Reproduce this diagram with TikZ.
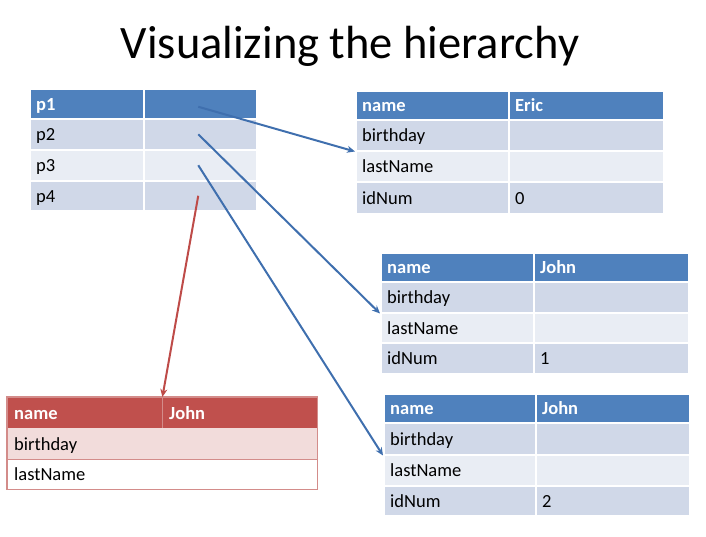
\documentclass[tikz,border=0pt]{standalone}
\usepackage{fontspec}
\setmainfont{Carlito}
\usetikzlibrary{arrows.meta}

\definecolor{hdrblue}{HTML}{4F81BD}
\definecolor{rowdark}{HTML}{D0D8E8}
\definecolor{rowlight}{HTML}{E9EDF4}
\definecolor{hdrred}{HTML}{C0504D}
\definecolor{rowpink}{HTML}{F2DCDB}
\definecolor{redline}{HTML}{D38C8A}
\definecolor{linkblue}{HTML}{3F6FAE}
\definecolor{linkred}{HTML}{BE4B48}

\tikzset{
  cellbox/.style={draw=white, line width=1.5pt, inner sep=0pt, anchor=north west},
  redbox/.style={draw=none, inner sep=0pt, anchor=north west},
  celltext/.style={anchor=base west, inner sep=0pt, font=\fontsize{18.5}{21}\selectfont},
  hdrtext/.style={celltext, text=white, font=\fontsize{18.5}{21}\selectfont\bfseries},
  bluelink/.style={draw=linkblue, line width=2pt, -{Stealth[length=8pt,width=7pt]}},
  redlink/.style={draw=linkred, line width=2pt, -{Stealth[length=8pt,width=7pt]}},
}

% one table cell: name, x1, y1, x2, y2, box options, text options, text
\newcommand\tcell[8]{%
  \pgfmathsetmacro\cellw{#4-#2}\pgfmathsetmacro\cellh{#5-#3}%
  \node[#6, minimum width=\cellw pt, minimum height=\cellh pt] (#1) at (#2,#3) {};
  \node[#7] (#1-t) at ([xshift=7pt,yshift=-6.5pt]#1.west) {#8};
}

\begin{document}
\begin{tikzpicture}[x=1pt, y=-1pt]
\useasboundingbox (0,0) rectangle (706,536);

% title
\node[font=\fontsize{46.5}{52}\selectfont, anchor=base] (title) at (350,58) {Visualizing the hierarchy};

% pointer array
\tcell{p1k}{29}{88}{143}{118}{cellbox,fill=hdrblue}{hdrtext}{p1}
\tcell{p1v}{143}{88}{256}{118}{cellbox,fill=hdrblue}{hdrtext}{}
\tcell{p2k}{29}{118}{143}{149}{cellbox,fill=rowdark}{celltext}{p2}
\tcell{p2v}{143}{118}{256}{149}{cellbox,fill=rowdark}{celltext}{}
\tcell{p3k}{29}{149}{143}{180}{cellbox,fill=rowlight}{celltext}{p3}
\tcell{p3v}{143}{149}{256}{180}{cellbox,fill=rowlight}{celltext}{}
\tcell{p4k}{29}{180}{143}{210}{cellbox,fill=rowdark}{celltext}{p4}
\tcell{p4v}{143}{180}{256}{210}{cellbox,fill=rowdark}{celltext}{}

% object: Eric
\tcell{e0k}{355}{90}{508}{119}{cellbox,fill=hdrblue}{hdrtext}{name}
\tcell{e0v}{508}{90}{663}{119}{cellbox,fill=hdrblue}{hdrtext}{Eric}
\tcell{e1k}{355}{119}{508}{150}{cellbox,fill=rowdark}{celltext}{birthday}
\tcell{e1v}{508}{119}{663}{150}{cellbox,fill=rowdark}{celltext}{}
\tcell{e2k}{355}{150}{508}{181}{cellbox,fill=rowlight}{celltext}{lastName}
\tcell{e2v}{508}{150}{663}{181}{cellbox,fill=rowlight}{celltext}{}
\tcell{e3k}{355}{181}{508}{213}{cellbox,fill=rowdark}{celltext}{idNum}
\tcell{e3v}{508}{181}{663}{213}{cellbox,fill=rowdark}{celltext}{0}

% object: John, idNum 1
\tcell{j0k}{380}{252}{533}{281}{cellbox,fill=hdrblue}{hdrtext}{name}
\tcell{j0v}{533}{252}{688}{281}{cellbox,fill=hdrblue}{hdrtext}{John}
\tcell{j1k}{380}{281}{533}{312}{cellbox,fill=rowdark}{celltext}{birthday}
\tcell{j1v}{533}{281}{688}{312}{cellbox,fill=rowdark}{celltext}{}
\tcell{j2k}{380}{312}{533}{342}{cellbox,fill=rowlight}{celltext}{lastName}
\tcell{j2v}{533}{312}{688}{342}{cellbox,fill=rowlight}{celltext}{}
\tcell{j3k}{380}{342}{533}{373}{cellbox,fill=rowdark}{celltext}{idNum}
\tcell{j3v}{533}{342}{688}{373}{cellbox,fill=rowdark}{celltext}{1}

% object: John, idNum 2
\tcell{k0k}{383}{393}{535}{422}{cellbox,fill=hdrblue}{hdrtext}{name}
\tcell{k0v}{535}{393}{689}{422}{cellbox,fill=hdrblue}{hdrtext}{John}
\tcell{k1k}{383}{422}{535}{454}{cellbox,fill=rowdark}{celltext}{birthday}
\tcell{k1v}{535}{422}{689}{454}{cellbox,fill=rowdark}{celltext}{}
\tcell{k2k}{383}{454}{535}{485}{cellbox,fill=rowlight}{celltext}{lastName}
\tcell{k2v}{535}{454}{689}{485}{cellbox,fill=rowlight}{celltext}{}
\tcell{k3k}{383}{485}{535}{515}{cellbox,fill=rowdark}{celltext}{idNum}
\tcell{k3v}{535}{485}{689}{515}{cellbox,fill=rowdark}{celltext}{2}

% partial object (red)
\tcell{r0k}{7}{397}{162}{428}{redbox,fill=hdrred}{hdrtext}{name}
\tcell{r0v}{162}{397}{317}{428}{redbox,fill=hdrred}{hdrtext}{John}
\tcell{r1k}{7}{428}{162}{459}{redbox,fill=rowpink}{celltext}{birthday}
\tcell{r1v}{162}{428}{317}{459}{redbox,fill=rowpink}{celltext}{}
\tcell{r2k}{7}{459}{162}{489}{redbox,fill=white}{celltext}{lastName}
\tcell{r2v}{162}{459}{317}{489}{redbox,fill=white}{celltext}{}
\draw[redline, line width=0.8pt] (r0k.north east) -- (r0k.south east);
\draw[redline, line width=1pt] (r2k.north west) -- (r2v.north east);
\draw[redline, line width=1.2pt] (r0k.north west) rectangle (r2v.south east);

% references
\draw[bluelink] ([xshift=-2pt,yshift=-3pt]p1v.center) -- (e1k.south west);
\draw[bluelink] ([xshift=-2pt]p2v.center) -- (j1k.south west);
\draw[bluelink] ([xshift=-2pt]p3v.center) -- (k1k.south west);
\draw[redlink] ([xshift=-2pt]p4v.center) -- (r0k.north east);
\end{tikzpicture}
\end{document}
